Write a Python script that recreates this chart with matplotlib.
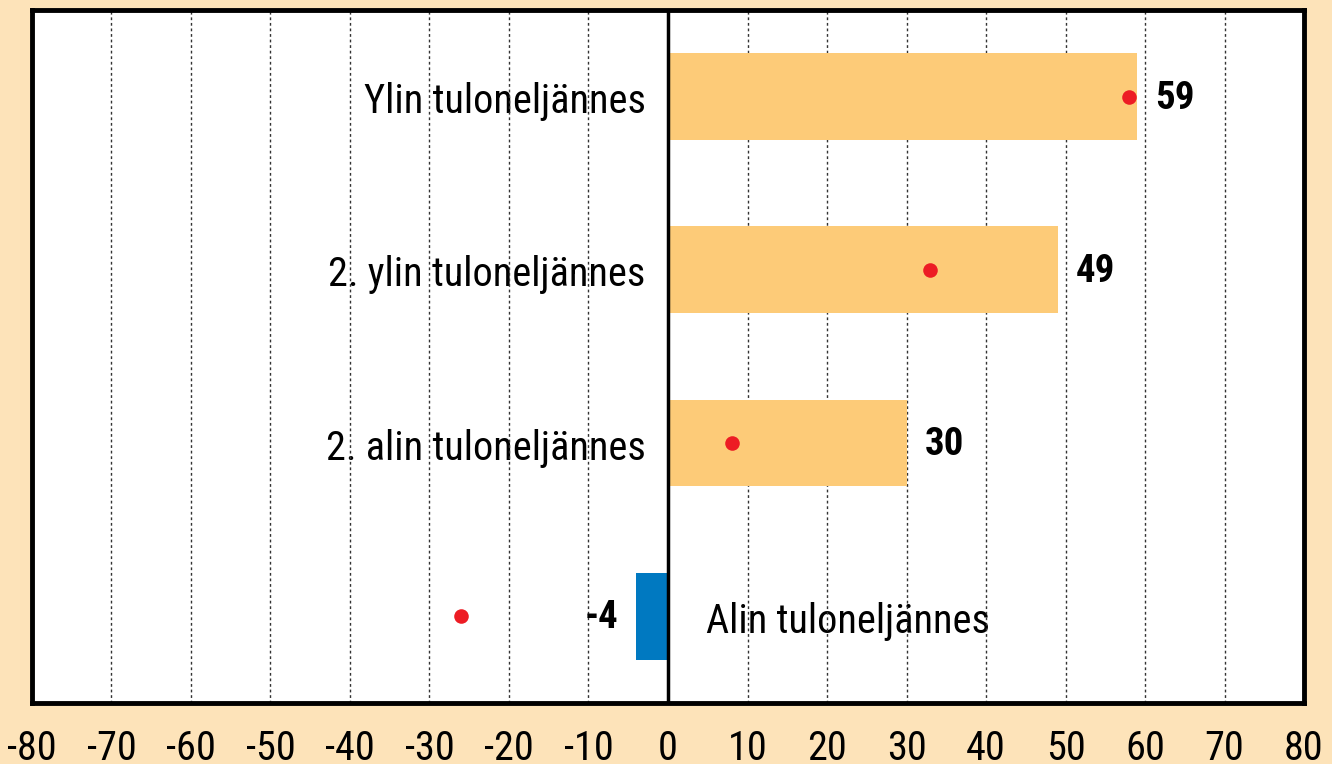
import matplotlib
matplotlib.use('Agg')
import matplotlib.pyplot as plt

# data
categories = ['Alin tuloneljännes', '2. alin tuloneljännes',
              '2. ylin tuloneljännes', 'Ylin tuloneljännes']
values = [-4, 30, 49, 59]
dots = [-26, 8, 33, 58]
ticks = list(range(-80, 81, 10))

plt.rcParams['font.family'] = ['Roboto Condensed', 'Archivo Narrow', 'DejaVu Sans']

bg = '#fde3b9'
fig = plt.figure(figsize=(13.32, 7.64), dpi=100, facecolor=bg)
ax = fig.add_axes([0.024, 0.08, 0.955, 0.907])
ax.set_facecolor('white')

ypos = list(range(len(categories)))
colors = ['#0079c1' if v < 0 else '#fdcb78' for v in values]
ax.barh(ypos, values, height=0.5, color=colors, zorder=1)
ax.scatter(dots, ypos, s=110, color='#ed1c24', zorder=3, linewidths=0)
ax.axvline(0, color='black', lw=2.5, zorder=2)

for y, v, name in zip(ypos, values, categories):
    if v >= 0:
        ax.text(v + 2.3, y - 0.01, str(v), ha='left', va='center', fontsize=28,
                fontweight='bold', zorder=3)
        ax.text(-2.8, y - 0.03, name, ha='right', va='center', fontsize=29, zorder=0.4)
    else:
        ax.text(v - 2.3, y - 0.01, str(v), ha='right', va='center', fontsize=28,
                fontweight='bold', zorder=3)
        ax.text(4.8, y - 0.03, name, ha='left', va='center', fontsize=29, zorder=0.4)

ax.set_xlim(-80, 80)
ax.set_ylim(-0.5, 3.5)
ax.set_xticks(ticks)
ax.set_xticklabels([str(t) for t in ticks], fontsize=29)
ax.set_yticks([])
ax.tick_params(axis='x', length=0, pad=19)
ax.set_axisbelow(True)
ax.grid(axis='x', color='#333333', linestyle=(0, (2, 2)), lw=1)

for s in ax.spines.values():
    s.set_linewidth(3.5)
    s.set_color('black')

fig.savefig('out.png', dpi=100, facecolor=bg)
